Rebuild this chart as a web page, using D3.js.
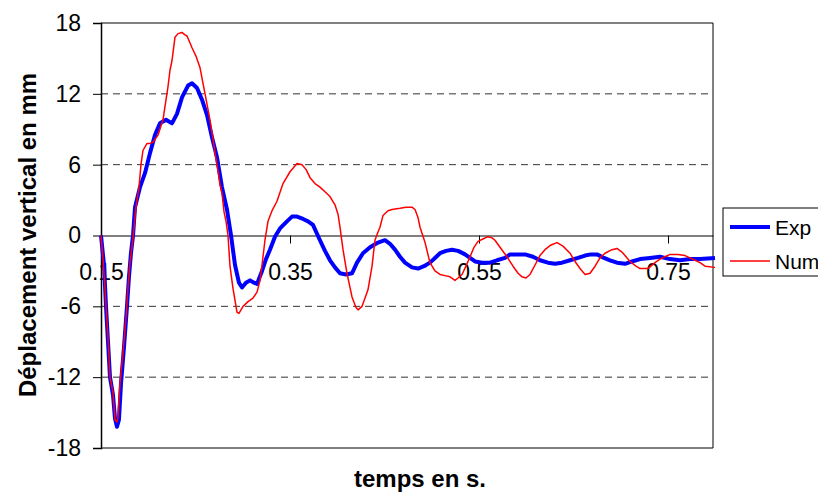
<!DOCTYPE html>
<html>
<head>
<meta charset="utf-8">
<script src="https://cdn.jsdelivr.net/npm/d3@7"></script>
<style>
  html, body { margin: 0; padding: 0; background: #fff; }
  svg { display: block; font-family: Arial, "Liberation Sans", sans-serif; }
</style>
</head>
<body>
<svg id="chart" width="818" height="493"></svg>
<script>
// ---- data ----
const seriesNames = ["Exp", "Num"];
const xTickValues = [0.15, 0.35, 0.55, 0.75];
const xTickLabels = ["0.15", "0.35", "0.55", "0.75"];
const yTickValues = [-18, -12, -6, 0, 6, 12, 18];
const yTickLabels = ["-18", "-12", "-6", "0", "6", "12", "18"];
const yGridValues = [-12, -6, 6, 12];

const expTime = [0.1500,0.1532,0.1553,0.1574,0.1595,0.1627,0.1648,0.1669,0.1690,0.1712,0.1743,0.1775,0.1796,0.1817,0.1839,0.1860,0.1913,0.1966,0.2019,0.2071,0.2124,0.2188,0.2251,0.2304,0.2357,0.2421,0.2463,0.2516,0.2569,0.2622,0.2675,0.2728,0.2780,0.2833,0.2876,0.2918,0.2960,0.2992,0.3034,0.3077,0.3119,0.3151,0.3204,0.3246,0.3288,0.3341,0.3394,0.3468,0.3521,0.3574,0.3638,0.3691,0.3743,0.3817,0.3870,0.3923,0.3976,0.4029,0.4093,0.4156,0.4209,0.4272,0.4347,0.4431,0.4505,0.4558,0.4611,0.4664,0.4717,0.4791,0.4855,0.4918,0.4981,0.5034,0.5087,0.5151,0.5214,0.5278,0.5352,0.5405,0.5458,0.5532,0.5616,0.5690,0.5775,0.5828,0.5913,0.5987,0.6071,0.6145,0.6230,0.6304,0.6378,0.6463,0.6548,0.6622,0.6685,0.6749,0.6823,0.6886,0.6960,0.7045,0.7119,0.7204,0.7310,0.7415,0.7521,0.7627,0.7733,0.7839,0.7997];
const expValue = [0,-2.5,-6,-9,-12,-13.5,-15.5,-16.2,-15.6,-12.5,-9.5,-6,-3.5,-1.5,0,2.4,4.1,5.3,7.0,8.5,9.5,9.8,9.5,10.3,11.7,12.7,12.9,12.5,11.5,10.2,8.3,6.6,4.1,2.2,0,-2.5,-4.0,-4.4,-4.0,-3.8,-4.0,-4.1,-3.0,-2.0,-1.2,-0.1,0.6,1.2,1.6,1.6,1.4,1.2,0.9,-0.4,-1.3,-2.1,-2.7,-3.2,-3.3,-3.2,-2.3,-1.5,-1.0,-0.6,-0.4,-0.7,-1.2,-1.8,-2.3,-2.7,-2.8,-2.6,-2.3,-1.9,-1.5,-1.3,-1.2,-1.3,-1.6,-1.9,-2.2,-2.3,-2.3,-2.1,-1.9,-1.6,-1.6,-1.6,-1.8,-2.1,-2.3,-2.4,-2.3,-2.1,-1.9,-1.7,-1.6,-1.6,-1.9,-2.1,-2.3,-2.4,-2.2,-2.0,-1.9,-1.8,-2.0,-2.1,-2.0,-2.0,-1.9];

const numTime = [0.1500,0.1521,0.1542,0.1553,0.1574,0.1595,0.1627,0.1648,0.1669,0.1680,0.1701,0.1733,0.1765,0.1786,0.1807,0.1839,0.1870,0.1902,0.1923,0.1944,0.1987,0.2019,0.2050,0.2103,0.2156,0.2188,0.2209,0.2230,0.2251,0.2283,0.2315,0.2357,0.2389,0.2410,0.2442,0.2463,0.2505,0.2548,0.2579,0.2601,0.2653,0.2685,0.2706,0.2738,0.2759,0.2780,0.2802,0.2823,0.2844,0.2865,0.2897,0.2939,0.2960,0.3003,0.3056,0.3108,0.3151,0.3183,0.3204,0.3235,0.3267,0.3310,0.3362,0.3426,0.3500,0.3574,0.3627,0.3669,0.3712,0.3765,0.3817,0.3870,0.3923,0.3976,0.4008,0.4029,0.4061,0.4103,0.4156,0.4198,0.4220,0.4262,0.4294,0.4325,0.4368,0.4399,0.4431,0.4452,0.4484,0.4537,0.4579,0.4664,0.4728,0.4791,0.4823,0.4855,0.4876,0.4929,0.4981,0.5034,0.5087,0.5140,0.5193,0.5246,0.5278,0.5320,0.5362,0.5405,0.5447,0.5489,0.5542,0.5595,0.5638,0.5669,0.5722,0.5796,0.5860,0.5913,0.5955,0.5997,0.6040,0.6093,0.6145,0.6198,0.6262,0.6325,0.6389,0.6463,0.6516,0.6569,0.6622,0.6675,0.6728,0.6780,0.6833,0.6907,0.6960,0.7013,0.7098,0.7161,0.7204,0.7288,0.7362,0.7415,0.7468,0.7521,0.7606,0.7680,0.7733,0.7786,0.7839,0.7892,0.7997];
const numValue = [0,-2,-4.4,-6,-8.6,-12.0,-13.3,-15.6,-15.8,-15.4,-12.5,-9.9,-6.9,-4.4,-2.3,-0.2,2.4,4.1,6.0,7.2,7.8,7.8,7.9,8.5,9.8,11.5,12.6,14.0,14.8,16.8,17.1,17.2,17.0,16.9,16.3,15.9,15.2,14.2,12.9,12.0,9.8,8.2,7.0,5.5,4.3,3.6,2.0,1.2,0,-2.6,-4.5,-6.5,-6.6,-6.0,-5.6,-5.3,-4.8,-3.8,-2.5,-0.4,1.2,2.1,2.9,4.4,5.4,6.1,6.0,5.6,4.9,4.4,4.1,3.7,3.3,2.6,1.8,0.7,-1.2,-3.2,-5.2,-6.1,-6.3,-6.0,-5.3,-4.6,-2.6,-0.4,0.3,0.7,1.7,2.1,2.2,2.3,2.4,2.4,2.2,1.5,0.7,-0.6,-2.3,-3.0,-3.3,-3.4,-3.5,-3.8,-3.6,-3.3,-2.6,-1.8,-1.0,-0.5,-0.3,-0.1,-0.2,-0.4,-1.0,-1.8,-2.6,-3.2,-3.5,-3.6,-3.3,-2.5,-1.7,-1.2,-0.8,-0.6,-0.9,-1.5,-2.2,-2.8,-3.3,-3.2,-2.6,-1.9,-1.5,-1.2,-1.1,-1.4,-2.2,-2.6,-2.8,-2.8,-2.3,-2.0,-1.8,-1.6,-1.6,-1.7,-1.9,-2.1,-2.3,-2.6,-2.7];

const xTitle = "temps en s.";
const yTitle = "Déplacement vertical en mm";

// ---- layout ----
const plot = { left: 101, right: 713, top: 23, bottom: 448 };
const svg = d3.select("#chart");
svg.append("rect").attr("width", 818).attr("height", 493).attr("fill", "#fff");

const x = d3.scaleLinear().domain([0.15, 0.7976]).range([plot.left, plot.right]);
const y = d3.scaleLinear().domain([-18, 18]).range([plot.bottom, plot.top]);

// gridlines (dashed)
svg.append("g").selectAll("line").data(yGridValues).join("line")
  .attr("x1", plot.left).attr("x2", plot.right)
  .attr("y1", d => y(d)).attr("y2", d => y(d))
  .attr("stroke", "#333").attr("stroke-width", 1)
  .attr("stroke-dasharray", "7,5");

// frame top / right / bottom
svg.append("line").attr("x1", plot.left).attr("x2", plot.right).attr("y1", y(18)).attr("y2", y(18)).attr("stroke", "#000");
svg.append("line").attr("x1", plot.left).attr("x2", plot.right).attr("y1", y(-18)).attr("y2", y(-18)).attr("stroke", "#000");
svg.append("line").attr("x1", plot.right).attr("x2", plot.right).attr("y1", y(18)).attr("y2", y(-18)).attr("stroke", "#000");

// y axis
const yAxis = d3.axisLeft(y).tickValues(yTickValues)
  .tickFormat((d, i) => yTickLabels[i]).tickSize(8).tickPadding(12);
const gy = svg.append("g").attr("transform", `translate(${plot.left},0)`).call(yAxis);
gy.select(".domain").attr("stroke", "#000").attr("stroke-width", 1.5);
gy.selectAll(".tick line").attr("stroke", "#000");
gy.selectAll("text").attr("font-size", 23).attr("fill", "#000")
  .attr("font-family", "Arial, 'Liberation Sans', sans-serif");

// x axis at y = 0
const xAxis = d3.axisBottom(x).tickValues(xTickValues)
  .tickFormat((d, i) => xTickLabels[i]).tickSize(8).tickPadding(20).tickSizeOuter(0);
const gx = svg.append("g").attr("transform", `translate(0,${y(0)})`).call(xAxis);
gx.select(".domain").attr("stroke", "#000").attr("stroke-width", 1);
gx.selectAll(".tick line").attr("stroke", "#000");
gx.selectAll("text").attr("font-size", 23).attr("fill", "#000")
  .attr("font-family", "Arial, 'Liberation Sans', sans-serif");

// titles
svg.append("text").attr("x", 420).attr("y", 487).attr("text-anchor", "middle")
  .attr("font-size", 24).attr("font-weight", "bold").text(xTitle);
svg.append("text").attr("transform", "translate(36,235) rotate(-90)")
  .attr("text-anchor", "middle").attr("font-size", 24).attr("font-weight", "bold").text(yTitle);

// lines
const expData = expTime.map((t, i) => [t, expValue[i]]);
const numData = numTime.map((t, i) => [t, numValue[i]]);
const line = d3.line().x(d => x(d[0])).y(d => y(d[1]));
svg.append("path").datum(expData).attr("d", line)
  .attr("fill", "none").attr("stroke", "#0000ff").attr("stroke-width", 4)
  .attr("stroke-linejoin", "round");
svg.append("path").datum(numData).attr("d", line)
  .attr("fill", "none").attr("stroke", "#ff0000").attr("stroke-width", 1.5)
  .attr("stroke-linejoin", "round");

// legend
const lg = svg.append("g");
lg.append("rect").attr("x", 723).attr("y", 208).attr("width", 110).attr("height", 68)
  .attr("fill", "#fff").attr("stroke", "#000").attr("stroke-width", 1);
const legendColors = ["#0000ff", "#ff0000"];
const legendWidths = [4, 1.5];
seriesNames.forEach((name, i) => {
  const ly = 227 + i * 34;
  lg.append("line").attr("x1", 730).attr("x2", 770).attr("y1", ly).attr("y2", ly)
    .attr("stroke", legendColors[i]).attr("stroke-width", legendWidths[i]);
  lg.append("text").attr("x", 775).attr("y", ly + 8).attr("font-size", 21).text(name);
});
</script>
</body>
</html>
